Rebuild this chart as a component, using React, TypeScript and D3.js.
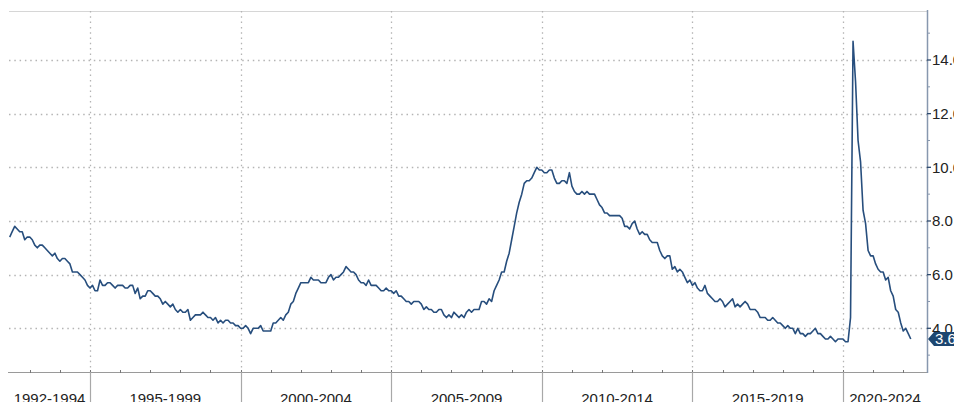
import React from "react";
import * as d3 from "d3";

// Monthly unemployment rate, starting April 1992, ending March 2022
const firstYear = 1992;
const firstMonthIndex = 3;
const monthlyRate: number[] = [
  // 1992 Apr-Dec
  7.4, 7.6, 7.8, 7.7, 7.6, 7.6, 7.3, 7.4, 7.4,
  // 1993
  7.3, 7.1, 7.0, 7.1, 7.1, 7.0, 6.9, 6.8, 6.7, 6.8, 6.6, 6.5,
  // 1994
  6.6, 6.6, 6.5, 6.4, 6.1, 6.1, 6.1, 6.0, 5.9, 5.8, 5.6, 5.5,
  // 1995
  5.6, 5.4, 5.4, 5.8, 5.6, 5.6, 5.7, 5.7, 5.6, 5.5, 5.6, 5.6,
  // 1996
  5.6, 5.5, 5.5, 5.6, 5.6, 5.3, 5.5, 5.1, 5.2, 5.2, 5.4, 5.4,
  // 1997
  5.3, 5.2, 5.2, 5.1, 4.9, 5.0, 4.9, 4.8, 4.9, 4.7, 4.6, 4.7,
  // 1998
  4.6, 4.6, 4.7, 4.3, 4.4, 4.5, 4.5, 4.5, 4.6, 4.5, 4.4, 4.4,
  // 1999
  4.3, 4.4, 4.2, 4.3, 4.2, 4.3, 4.3, 4.2, 4.2, 4.1, 4.1, 4.0,
  // 2000
  4.0, 4.1, 4.0, 3.8, 4.0, 4.0, 4.0, 4.1, 3.9, 3.9, 3.9, 3.9,
  // 2001
  4.2, 4.2, 4.3, 4.4, 4.3, 4.5, 4.6, 4.9, 5.0, 5.3, 5.5, 5.7,
  // 2002
  5.7, 5.7, 5.7, 5.9, 5.8, 5.8, 5.8, 5.7, 5.7, 5.7, 5.9, 6.0,
  // 2003
  5.8, 5.9, 5.9, 6.0, 6.1, 6.3, 6.2, 6.1, 6.1, 6.0, 5.8, 5.7,
  // 2004
  5.7, 5.6, 5.8, 5.6, 5.6, 5.6, 5.5, 5.4, 5.4, 5.5, 5.4, 5.4,
  // 2005
  5.3, 5.4, 5.2, 5.2, 5.1, 5.0, 5.0, 4.9, 5.0, 5.0, 5.0, 4.9,
  // 2006
  4.7, 4.8, 4.7, 4.7, 4.6, 4.6, 4.7, 4.7, 4.5, 4.4, 4.5, 4.4,
  // 2007
  4.6, 4.5, 4.4, 4.5, 4.4, 4.6, 4.7, 4.6, 4.7, 4.7, 4.7, 5.0,
  // 2008
  5.0, 4.9, 5.1, 5.0, 5.4, 5.6, 5.8, 6.1, 6.1, 6.5, 6.8, 7.3,
  // 2009
  7.8, 8.3, 8.7, 9.0, 9.4, 9.5, 9.5, 9.6, 9.8, 10.0, 9.9, 9.9,
  // 2010
  9.8, 9.8, 9.9, 9.9, 9.6, 9.4, 9.4, 9.5, 9.5, 9.4, 9.8, 9.3,
  // 2011
  9.1, 9.0, 9.0, 9.1, 9.0, 9.1, 9.0, 9.0, 9.0, 8.8, 8.6, 8.5,
  // 2012
  8.3, 8.3, 8.2, 8.2, 8.2, 8.2, 8.2, 8.1, 7.8, 7.8, 7.7, 7.9,
  // 2013
  8.0, 7.7, 7.5, 7.6, 7.5, 7.5, 7.3, 7.2, 7.2, 7.2, 6.9, 6.7,
  // 2014
  6.6, 6.7, 6.7, 6.2, 6.3, 6.1, 6.2, 6.1, 5.9, 5.7, 5.8, 5.6,
  // 2015
  5.7, 5.5, 5.4, 5.4, 5.6, 5.3, 5.2, 5.1, 5.0, 5.0, 5.1, 5.0,
  // 2016
  4.8, 4.9, 5.0, 5.1, 4.8, 4.9, 4.8, 4.9, 5.0, 4.9, 4.7, 4.7,
  // 2017
  4.7, 4.6, 4.4, 4.4, 4.4, 4.3, 4.3, 4.4, 4.3, 4.2, 4.2, 4.1,
  // 2018
  4.0, 4.1, 4.0, 4.0, 3.8, 4.0, 3.8, 3.8, 3.7, 3.8, 3.8, 3.9,
  // 2019
  4.0, 3.8, 3.8, 3.7, 3.6, 3.6, 3.7, 3.6, 3.5, 3.6, 3.6, 3.6,
  // 2020
  3.5, 3.5, 4.4, 14.7, 13.2, 11.0, 10.2, 8.4, 7.9, 6.9, 6.7, 6.7,
  // 2021
  6.4, 6.2, 6.1, 6.1, 5.8, 5.9, 5.4, 5.2, 4.7, 4.6, 4.2, 3.9,
  // 2022 Jan-Mar
  4.0, 3.8, 3.6,
];

const periodStarts = [1995, 2000, 2005, 2010, 2015, 2020];
const periodLabels = ["1992-1994", "1995-1999", "2000-2004", "2005-2009", "2010-2014", "2015-2019", "2020-2024"];
const yearTicks = d3.range(1993, 2023);
const yMajorTicks = [4, 6, 8, 10, 12, 14];
const yMajorLabels = ["4.0", "6.0", "8.0", "10.0", "12.0", "14.0"];
const yMinorTicks = [3, 5, 7, 9, 11, 13, 15];
const lastValueLabel = "3.6";

const W = 954;
const H = 402;
const PLOT_LEFT = 9;
const PLOT_RIGHT = 927;
const PLOT_TOP = 11;
const PLOT_BOTTOM = 372;

const LINE_COLOR = "#274e7d";
const TAG_COLOR = "#1d4670";
const AXIS_COLOR = "#8797ae";
const GRID_COLOR = "#b4b4b4";
const FONT = "'Liberation Sans', Arial, sans-serif";

export default function App() {
  const x = d3.scaleLinear().domain([1995, 2020]).range([90, 843]);
  const y = d3.scaleLinear().domain([4, 14]).range([328.3, 60]);

  const points = monthlyRate.map((v, i) => {
    const mi = firstMonthIndex + i;
    const t = firstYear + Math.floor(mi / 12) + ((mi % 12) + 1) / 12;
    return [t, v] as [number, number];
  });

  const line = d3
    .line<[number, number]>()
    .x((d) => x(d[0]))
    .y((d) => y(d[1]));

  const bounds = [PLOT_LEFT, ...periodStarts.map((p) => x(p)), PLOT_RIGHT];
  const last = points[points.length - 1];
  const tagY = y(last[1]);
  const tagX = PLOT_RIGHT + 1;
  const tagH = 14;
  const tagPath = `M${tagX},${tagY} L${tagX + 6},${tagY - tagH / 2} L${W + 5},${tagY - tagH / 2} L${W + 5},${tagY + tagH / 2} L${tagX + 6},${tagY + tagH / 2} Z`;

  return (
    <svg
      width={W}
      height={H}
      style={{ position: "absolute", left: 0, top: 0, background: "#fff" }}
      fontFamily={FONT}
    >
      <defs>
        <clipPath id="plotClip">
          <rect x={PLOT_LEFT} y={PLOT_TOP} width={PLOT_RIGHT - PLOT_LEFT} height={PLOT_BOTTOM - PLOT_TOP} />
        </clipPath>
      </defs>

      {/* top border */}
      <line x1={PLOT_LEFT} x2={PLOT_RIGHT} y1={PLOT_TOP + 0.5} y2={PLOT_TOP + 0.5} stroke="#d6d6d6" strokeWidth={1} />

      {/* horizontal grid */}
      {yMajorTicks.map((t) => (
        <line
          key={"hg" + t}
          x1={PLOT_LEFT}
          x2={PLOT_RIGHT}
          y1={Math.round(y(t)) + 0.5}
          y2={Math.round(y(t)) + 0.5}
          stroke={GRID_COLOR}
          strokeWidth={1.3}
          strokeDasharray="1.5 3.8"
        />
      ))}

      {/* vertical grid at period boundaries */}
      {periodStarts.map((p) => (
        <line
          key={"vg" + p}
          x1={Math.round(x(p)) + 0.5}
          x2={Math.round(x(p)) + 0.5}
          y1={PLOT_TOP}
          y2={PLOT_BOTTOM}
          stroke={GRID_COLOR}
          strokeWidth={1.3}
          strokeDasharray="1.5 3.8"
        />
      ))}

      {/* series line */}
      <path d={line(points) ?? ""} fill="none" stroke={LINE_COLOR} strokeWidth={1.6} strokeLinejoin="round" clipPath="url(#plotClip)" />

      {/* bottom axis */}
      <line x1={8} x2={PLOT_RIGHT} y1={PLOT_BOTTOM + 0.5} y2={PLOT_BOTTOM + 0.5} stroke="#9a9a9a" strokeWidth={1.2} />
      {yearTicks.map((yr) => (
        <line
          key={"yt" + yr}
          x1={Math.round(x(yr)) + 0.5}
          x2={Math.round(x(yr)) + 0.5}
          y1={PLOT_BOTTOM - 2}
          y2={PLOT_BOTTOM + 1}
          stroke="#777"
          strokeWidth={1}
        />
      ))}
      {periodStarts.map((p) => (
        <line
          key={"pd" + p}
          x1={Math.round(x(p)) + 0.5}
          x2={Math.round(x(p)) + 0.5}
          y1={PLOT_BOTTOM}
          y2={H}
          stroke="#a8a8a8"
          strokeWidth={1.2}
        />
      ))}
      {periodLabels.map((lab, i) => (
        <text
          key={"pl" + lab}
          x={(bounds[i] + bounds[i + 1]) / 2}
          y={404}
          textAnchor="middle"
          fontSize={15}
          fill="#222"
        >
          {lab}
        </text>
      ))}

      {/* right axis */}
      <line x1={PLOT_RIGHT + 0.5} x2={PLOT_RIGHT + 0.5} y1={PLOT_TOP - 1} y2={PLOT_BOTTOM + 1} stroke={AXIS_COLOR} strokeWidth={1.5} />
      {yMinorTicks.map((t) => (
        <line key={"mt" + t} x1={PLOT_RIGHT} x2={PLOT_RIGHT + 3} y1={y(t)} y2={y(t)} stroke={AXIS_COLOR} strokeWidth={1} />
      ))}
      {yMajorTicks.map((t, i) => (
        <g key={"yl" + t}>
          <line x1={PLOT_RIGHT} x2={PLOT_RIGHT + 4} y1={y(t)} y2={y(t)} stroke="#2d4a6e" strokeWidth={1.3} />
          <text x={PLOT_RIGHT + 5} y={y(t)} dy="0.36em" fontSize={15} fill="#222">
            {yMajorLabels[i]}
          </text>
        </g>
      ))}

      {/* last value tag */}
      <path d={tagPath} fill={TAG_COLOR} />
      <text x={tagX + 7} y={tagY} dy="0.36em" fontSize={15} fill="#fff">
        {lastValueLabel}
      </text>
    </svg>
  );
}
